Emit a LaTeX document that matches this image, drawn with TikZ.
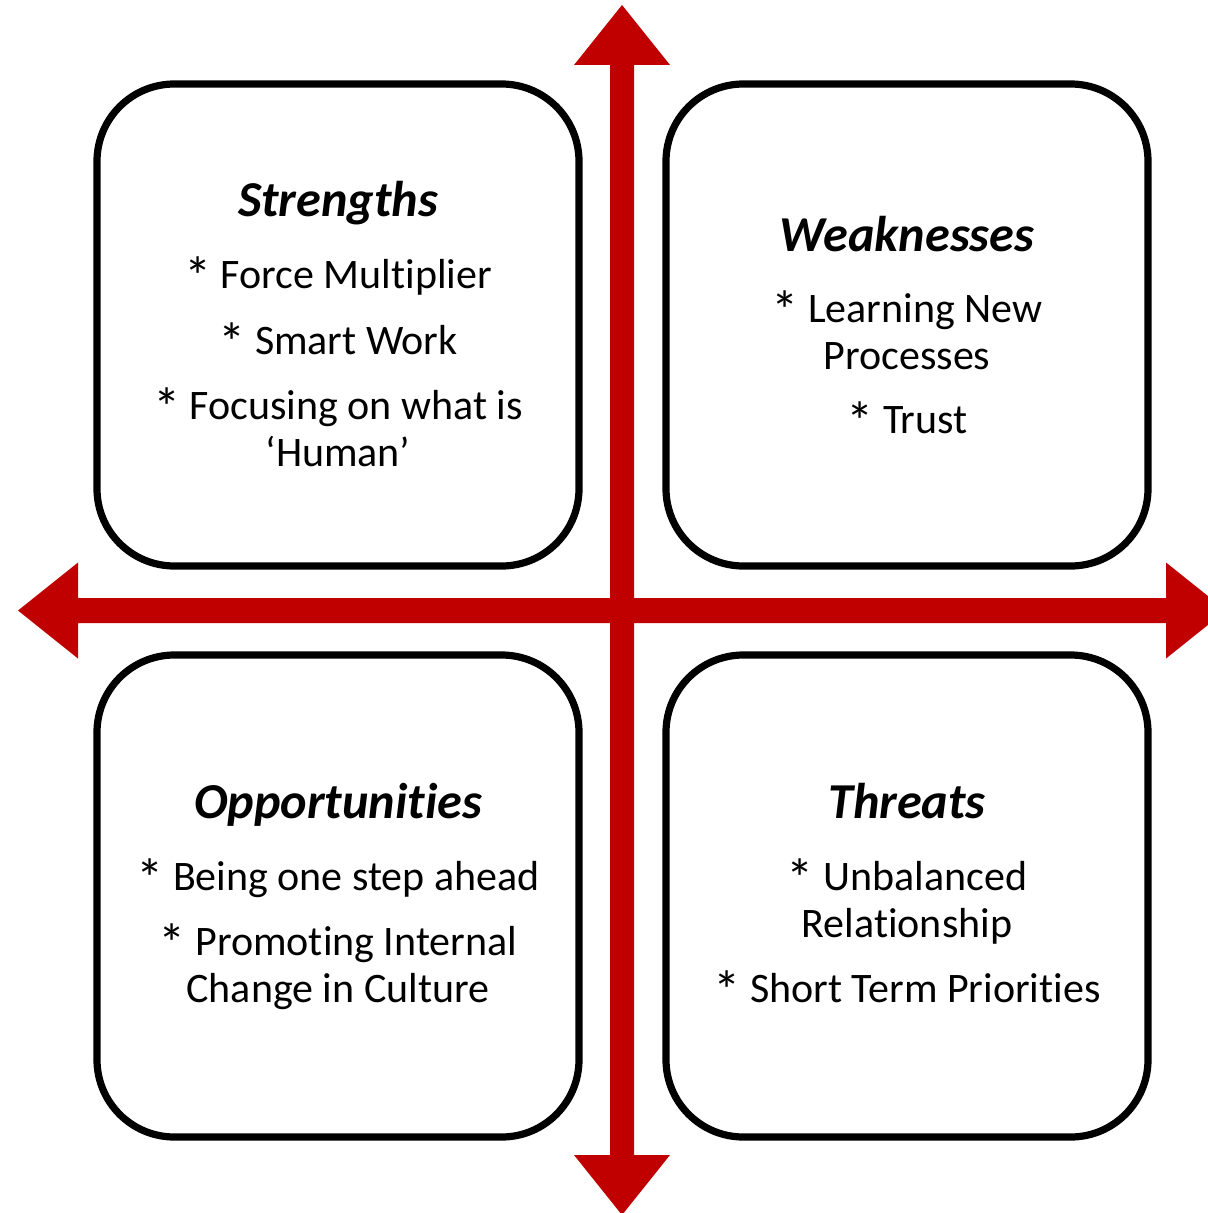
\documentclass[tikz,border=0pt]{standalone}
\usepackage{fontspec}
\setmainfont{Carlito}[Ligatures={NoCommon}]
\definecolor{axisred}{HTML}{C00000}
\newcommand\bulast{\raisebox{-0.17em}{\scalebox{1.3}{*}}}
\begin{document}
\begin{tikzpicture}[x=0.75pt,y=-0.75pt,
  quad/.style={draw=black, line width=5.4pt, rounded corners=58pt,
    minimum width=361.5pt, minimum height=361.5pt, inner sep=0pt},
  ttl/.style={anchor=base, inner sep=0pt, font=\fontsize{37.7}{42}\selectfont\bfseries\itshape},
  itm/.style={anchor=base, inner sep=0pt, align=center, font=\fontsize{31.5}{35.25}\selectfont},
  axisfill/.style={fill=axisred, draw=none}]
\useasboundingbox (0,0) rectangle (1207,1213);
% axes
\fill[axisfill] (622,5) -- (670,65) -- (634,65) -- (634,1155) -- (670,1155) -- (622,1215)
  -- (574,1155) -- (610,1155) -- (610,65) -- (574,65) -- cycle;
\fill[axisfill] (18,610.5) -- (78,562.5) -- (78,598) -- (1166,598) -- (1166,562.5) -- (1226,610.5)
  -- (1166,658.5) -- (1166,623) -- (78,623) -- (78,658.5) -- cycle;
% boxes
\node[quad] (S) at (338,325) {};
\node[quad] (W) at (907,325) {};
\node[quad] (O) at (338,896) {};
\node[quad] (T) at (907,896) {};
% Strengths
\node[ttl] (s0) at (338,216) {Strengths};
\node[itm] (s1) at (338,288) {\bulast{} Force Multiplier};
\node[itm] (s2) at (338,354) {\bulast{} Smart Work};
\node[itm] (s3) at (338,466) {\bulast{} Focusing on what is\\‘Human’};
% Weaknesses
\node[ttl] (w0) at (907,251) {Weaknesses};
\node[itm] (w1) at (907,369) {\bulast{} Learning New\\Processes};
\node[itm] (w3) at (907,433) {\bulast{} Trust};
% Opportunities
\node[ttl] (o0) at (338,818) {Opportunities};
\node[itm] (o1) at (338,890) {\bulast{} Being one step ahead};
\node[itm] (o2) at (338,1002) {\bulast{} Promoting Internal\\Change in Culture};
% Threats
\node[ttl] (t0) at (907,818) {Threats};
\node[itm] (t1) at (907,937) {\bulast{} Unbalanced\\Relationship};
\node[itm] (t3) at (907,1002) {\bulast{} Short Term Priorities};
\end{tikzpicture}
\end{document}
